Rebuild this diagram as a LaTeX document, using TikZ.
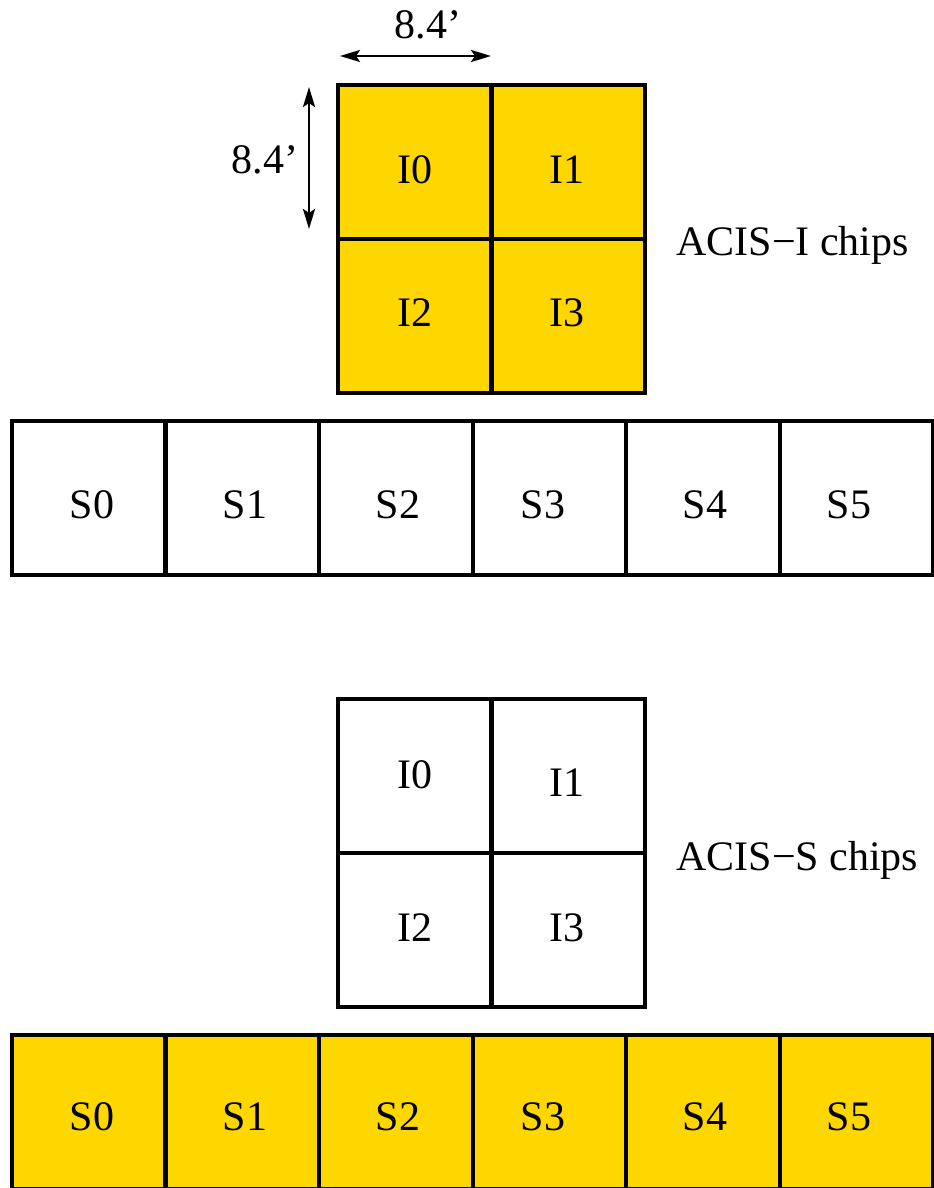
\documentclass[tikz,border=0pt]{standalone}
\usepackage{fontspec}
\setmainfont{Liberation Serif}
\usetikzlibrary{arrows.meta}
\definecolor{chipgold}{RGB}{255,215,0}
\begin{document}
\begin{tikzpicture}[x=0.5pt,y=-0.5pt,
  chip/.style={draw=black,line width=1.6pt,minimum width=76.5pt,minimum height=77pt,inner sep=0pt,outer sep=0pt,anchor=north west},
  onchip/.style={chip,fill=chipgold},
  offchip/.style={chip,fill=white},
  lbl/.style={font=\fontsize{21}{25}\selectfont,inner sep=0pt},
  dim/.style={line width=1.4pt,{Stealth[length=10pt,width=6pt,inset=2pt]}-{Stealth[length=10pt,width=6pt,inset=2pt]}}]
\useasboundingbox (0,0) rectangle (933,1188);
% ACIS-I configuration (top)
\node[onchip] (tI0) at (338,85) {};
\node[onchip] (tI1) at (492,85) {};
\node[onchip] (tI2) at (338,239) {};
\node[onchip] (tI3) at (492,239) {};
\node[lbl] (ltI0) at (415,170) {I0};
\node[lbl] (ltI1) at (567,170) {I1};
\node[lbl] (ltI2) at (415,313) {I2};
\node[lbl] (ltI3) at (567,313) {I3};
\foreach \i/\x in {0/12,1/166,2/319.5,3/473,4/626.5,5/780}{
  \node[offchip,minimum width=76.5pt] (tS\i) at (\x,421) {};
}
\node[lbl] at (92,505) {S0};
\node[lbl] at (245,505) {S1};
\node[lbl] at (398,505) {S2};
\node[lbl] at (543,505) {S3};
\node[lbl] at (705,505) {S4};
\node[lbl] at (849,505) {S5};
\node[lbl,anchor=west] (acisI) at (676,245) {ACIS−I chips};
% dimension arrows
\coordinate (hA) at (340,56);
\coordinate (hB) at (491,56);
\draw[dim] (hA) -- (hB);
\node[lbl] (hlab) at (428,25) {8.4’};
\coordinate (vA) at (309,87);
\coordinate (vB) at (309,229);
\draw[dim] (vA) -- (vB);
\node[lbl] (vlab) at (265,160) {8.4’};
% ACIS-S configuration (bottom)
\node[offchip] (bI0) at (338,699) {};
\node[offchip] (bI1) at (492,699) {};
\node[offchip] (bI2) at (338,853) {};
\node[offchip] (bI3) at (492,853) {};
\node[lbl] (lbI0) at (415,775) {I0};
\node[lbl] (lbI1) at (567,783) {I1};
\node[lbl] (lbI2) at (415,928) {I2};
\node[lbl] (lbI3) at (567,928) {I3};
\foreach \i/\x in {0/12,1/166,2/319.5,3/473,4/626.5,5/780}{
  \node[onchip,minimum width=76.5pt] (bS\i) at (\x,1035) {};
}
\node[lbl] at (92,1117) {S0};
\node[lbl] at (245,1117) {S1};
\node[lbl] at (398,1117) {S2};
\node[lbl] at (543,1117) {S3};
\node[lbl] at (705,1117) {S4};
\node[lbl] at (849,1117) {S5};
\node[lbl,anchor=west] (acisS) at (676,860) {ACIS−S chips};
\end{tikzpicture}
\end{document}
